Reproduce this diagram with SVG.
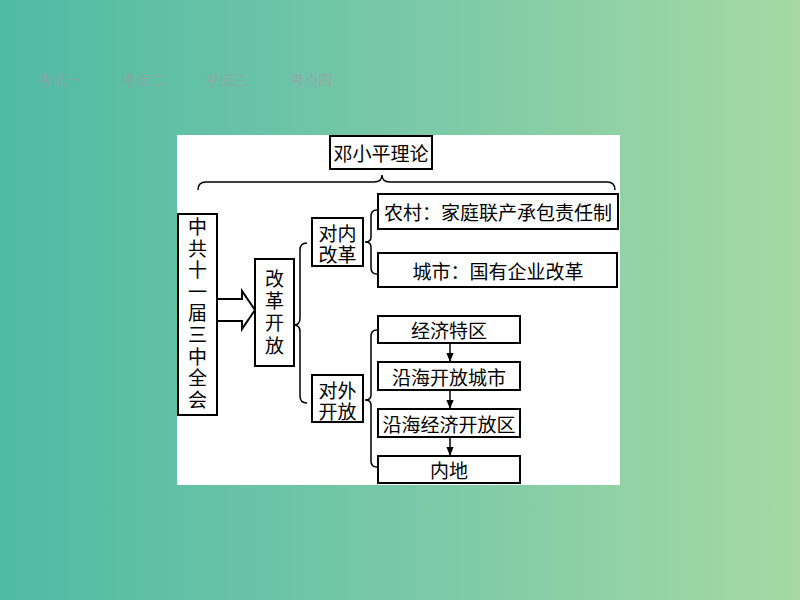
<svg xmlns="http://www.w3.org/2000/svg" width="800" height="600" viewBox="0 0 800 600">
<defs>
<linearGradient id="bg" x1="0" y1="0" x2="1" y2="0">
<stop offset="0" stop-color="#4fbaa4"/>
<stop offset="0.5" stop-color="#78c8a8"/>
<stop offset="1" stop-color="#a6d9a3"/>
</linearGradient>
<marker id="ah" viewBox="0 0 10 10" refX="10" refY="5" markerWidth="9" markerHeight="9" orient="auto" markerUnits="userSpaceOnUse">
<path d="M0,1 L10,5 L0,9 Z" fill="#000"/>
</marker>
<style>
.box{fill:#fff;stroke:#000;stroke-width:2}
.t{font-family:"Noto Sans CJK SC","Noto Sans",sans-serif;font-size:19px;fill:#000;text-anchor:middle;dominant-baseline:central}
.v{font-family:"Noto Sans CJK SC","Noto Sans",sans-serif;font-size:19px;fill:#000;text-anchor:middle;writing-mode:vertical-rl}
.nav{font-family:"Noto Sans CJK SC","Noto Sans",sans-serif;font-size:14px;fill:#a49aa4;opacity:0.6}
.br{fill:none;stroke:#000;stroke-width:1.5}
.ln{stroke:#000;stroke-width:1.5;fill:none}
</style>
</defs>
<rect x="0" y="0" width="800" height="600" fill="url(#bg)"/>
<g id="nav">
<text class="nav" x="38" y="85">考点一</text>
<text class="nav" x="122" y="85">考点二</text>
<text class="nav" x="205" y="85">考点三</text>
<text class="nav" x="290" y="85">考点四</text>
</g>
<rect x="177" y="135" width="443" height="350" fill="#fff"/>
<g id="connectors">
<path class="br" d="M198,190 Q198,182 206,182 L374,182 Q382,182 382,175 Q382,182 390,182 L607,182 Q615,182 615,190"/>
<path class="br" d="M307,243 Q300,243 300,250 L300,318 Q300,325 294,325 Q300,325 300,332 L300,396 Q300,403 307,403"/>
<path class="br" d="M377,210 Q371,210 371,216 L371,237 Q371,242 365,242 Q371,242 371,247 L371,268 Q371,274 377,274"/>
<path class="br" d="M377,330 Q371,330 371,336 L371,395 Q371,400 365,400 Q371,400 371,405 L371,461 Q371,467 377,467"/>
<polyline points="217,299 242,299 242,291 255,310 242,329 242,321 217,321" fill="#fff" stroke="#000" stroke-width="2"/>
<line class="ln" x1="450" y1="343" x2="450" y2="362" marker-end="url(#ah)"/>
<line class="ln" x1="450" y1="390" x2="450" y2="409" marker-end="url(#ah)"/>
<line class="ln" x1="450" y1="437" x2="450" y2="456" marker-end="url(#ah)"/>
</g>
<g id="dxp"><rect class="box" x="330" y="136" width="102" height="33"/><text class="t" x="381" y="152.5">邓小平理论</text></g>
<g id="plenum"><rect class="box" x="178" y="214" width="39" height="201"/>
<text class="v" x="197.5" y="314.5" letter-spacing="2.6">中共十一届三中全会</text>
</g>
<g id="reform"><rect class="box" x="255" y="259" width="39" height="107"/>
<text class="v" x="274.5" y="313.5" letter-spacing="3.3">改革开放</text>
</g>
<g id="internal"><rect class="box" x="312" y="218" width="51" height="48"/>
<text class="t" x="337.5" y="232.5">对内<tspan x="337.5" dy="20.5">改革</tspan></text></g>
<g id="external"><rect class="box" x="312" y="375" width="51" height="47"/>
<text class="t" x="337.5" y="389">对外<tspan x="337.5" dy="21">开放</tspan></text></g>
<g id="rural"><rect class="box" x="378" y="194" width="240" height="35"/><text class="t" x="498" y="211.5">农村：家庭联产承包责任制</text></g>
<g id="urban"><rect class="box" x="378" y="253" width="239" height="34"/><text class="t" x="498" y="270">城市：国有企业改革</text></g>
<g id="sez"><rect class="box" x="378" y="316" width="142" height="27"/><text class="t" x="449" y="329.5">经济特区</text></g>
<g id="coastal-cities"><rect class="box" x="378" y="362" width="142" height="28"/><text class="t" x="449" y="376">沿海开放城市</text></g>
<g id="coastal-zones"><rect class="box" x="378" y="409" width="142" height="28"/><text class="t" x="449" y="423">沿海经济开放区</text></g>
<g id="inland"><rect class="box" x="378" y="456" width="142" height="27"/><text class="t" x="449" y="469.5">内地</text></g>
</svg>
